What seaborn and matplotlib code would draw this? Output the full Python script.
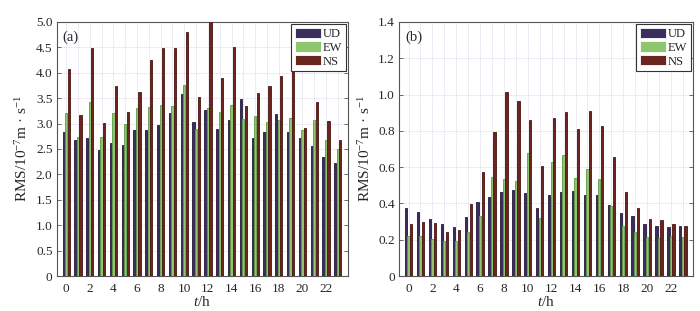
import numpy as np
import pandas as pd
import matplotlib
matplotlib.use("Agg")
import matplotlib.pyplot as plt
import seaborn as sns
from matplotlib.ticker import FixedLocator

hours = list(range(24))
components = ["UD", "EW", "NS"]

# panel (a)
a_ud = [2.83, 2.68, 2.71, 2.48, 2.62, 2.58, 2.87, 2.87, 2.97, 3.20, 3.58, 3.03,
        3.27, 2.90, 3.07, 3.49, 2.72, 2.83, 3.18, 2.83, 2.72, 2.56, 2.35, 2.22]
a_ew = [3.21, 2.74, 3.43, 2.74, 3.21, 3.00, 3.30, 3.32, 3.37, 3.35, 3.76, 2.90,
        3.31, 3.22, 3.37, 3.08, 3.14, 3.03, 3.07, 3.11, 2.88, 3.07, 2.68, 2.50]
a_ns = [4.08, 3.17, 4.48, 3.01, 3.73, 3.23, 3.63, 4.25, 4.48, 4.48, 4.81, 3.53,
        5.02, 3.90, 4.51, 3.34, 3.61, 3.74, 3.93, 4.12, 2.91, 3.43, 3.05, 2.68]

# panel (b)
b_ud = [0.374, 0.354, 0.314, 0.287, 0.272, 0.325, 0.408, 0.437, 0.462, 0.475, 0.457, 0.377,
        0.444, 0.462, 0.471, 0.444, 0.444, 0.392, 0.346, 0.328, 0.285, 0.278, 0.269, 0.276]
b_ew = [0.220, 0.223, 0.204, 0.195, 0.191, 0.242, 0.330, 0.544, 0.535, 0.525, 0.677, 0.319,
        0.630, 0.667, 0.538, 0.591, 0.535, 0.388, 0.278, 0.243, 0.216, 0.211, 0.218, 0.213]
b_ns = [0.287, 0.296, 0.290, 0.245, 0.254, 0.399, 0.573, 0.791, 1.012, 0.967, 0.862, 0.607,
        0.869, 0.903, 0.808, 0.909, 0.826, 0.658, 0.462, 0.374, 0.316, 0.307, 0.287, 0.274]

xtick_labels = [str(h) for h in range(0, 24, 2)]
colors = ["#3b2d5c", "#8dc66d", "#6c241f"]
edges = ["#24183f", "#5f9a48", "#4a1410"]

sns.set_theme(style="white")
plt.rcParams["font.family"] = ["Liberation Serif", "DejaVu Serif"]
plt.rcParams["mathtext.fontset"] = "custom"
plt.rcParams["mathtext.rm"] = "Liberation Serif"
plt.rcParams["mathtext.it"] = "Liberation Serif:italic"

fig = plt.figure(figsize=(7.0, 3.11), dpi=100)
ax_a = fig.add_axes([0.081, 0.1125, 0.416, 0.817])
ax_b = fig.add_axes([0.570, 0.1125, 0.420, 0.817])


def make_df(ud, ew, ns):
    return pd.DataFrame({
        "hour": hours * 3,
        "comp": ["UD"] * 24 + ["EW"] * 24 + ["NS"] * 24,
        "rms": list(ud) + list(ew) + list(ns),
    })


def draw(ax, df, ymax, ystep, label, yfmt):
    sns.barplot(data=df, x="hour", y="rms", hue="comp", hue_order=components,
                palette=colors, width=0.64, gap=0.12, ax=ax, errorbar=None,
                linewidth=0.6, saturation=1)
    for i, cont in enumerate(ax.containers):
        for p in cont:
            p.set_edgecolor(edges[i])
            p.set_zorder(3)
    ax.set_xlim(-0.8, 23.85)
    ax.set_ylim(0, ymax)
    ax.xaxis.set_major_locator(FixedLocator(list(range(0, 24, 2))))
    ax.set_xticklabels(xtick_labels)
    ax.xaxis.set_minor_locator(FixedLocator(list(range(1, 24, 2))))
    yt = np.round(np.arange(0, ymax + 1e-9, ystep), 2)
    ax.set_yticks(yt)
    ax.set_yticklabels(["0"] + [yfmt.format(v) for v in yt[1:]])
    ax.grid(True, which="both", color="#d8d0e6", linestyle=(0, (1, 1)), linewidth=0.6, zorder=0)
    ax.set_axisbelow(True)
    ax.tick_params(axis="both", which="major", labelsize=9.5, direction="in",
                   length=3, width=0.6, color="#555555", right=True, left=True,
                   bottom=False, top=False, pad=3)
    ax.tick_params(axis="x", which="major", pad=5)
    ax.tick_params(axis="x", which="minor", length=0)
    for s in ax.spines.values():
        s.set_color("#555555")
        s.set_linewidth(0.8)
    ax.set_xlabel("$t$/h", fontsize=11, labelpad=0)
    ax.set_ylabel(r"RMS/10$^{-7}$m · s$^{-1}$", fontsize=11, labelpad=4)
    ax.text(0.02, 0.965, label, transform=ax.transAxes, fontsize=10.5,
            va="top", ha="left")
    leg = ax.legend(loc="upper right", fontsize=9, frameon=True, fancybox=False,
                    handlelength=2.1, handleheight=0.9, handletextpad=0.15,
                    borderpad=0.3, labelspacing=0.1, borderaxespad=0.15)
    leg.get_frame().set_edgecolor("#333333")
    leg.get_frame().set_linewidth(0.8)
    leg.get_frame().set_alpha(1)


draw(ax_a, make_df(a_ud, a_ew, a_ns), 5.0, 0.5, "(a)", "{:.1f}")
draw(ax_b, make_df(b_ud, b_ew, b_ns), 1.4, 0.2, "(b)", "{:.1f}")

fig.savefig("out.png", dpi=100)
